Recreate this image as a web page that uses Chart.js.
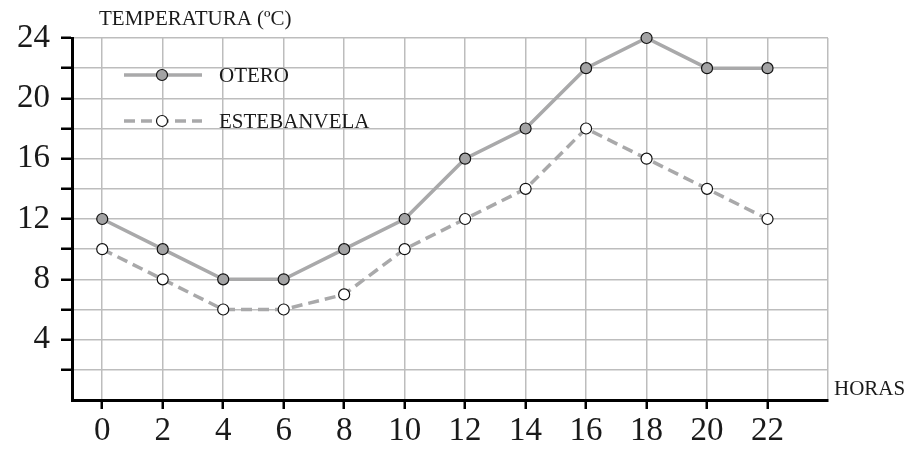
<!DOCTYPE html>
<html>
<head>
<meta charset="utf-8">
<script src="https://cdn.jsdelivr.net/npm/chart.js@4/dist/chart.umd.min.js"></script>
<style>
  html, body { margin: 0; background: #fff; }
</style>
</head>
<body>
<canvas id="tempChart" width="912" height="449"></canvas>
<script>
// datos
var horas = [0, 2, 4, 6, 8, 10, 12, 14, 16, 18, 20, 22];
var otero = [12, 10, 8, 8, 10, 12, 16, 18, 22, 24, 22, 22];
var estebanvela = [10, 8, 6, 6, 7, 10, 12, 14, 18, 16, 14, 12];
var xTicks = [0, 2, 4, 6, 8, 10, 12, 14, 16, 18, 20, 22, 24];
var seriesNames = ['OTERO', 'ESTEBANVELA'];

var lineGray = '#a9a9aa';
var serif = '"Liberation Serif", "DejaVu Serif", serif';

function toPoints(ys) {
  return horas.map(function (h, i) { return { x: h, y: ys[i] }; });
}

// titulo, etiqueta de horas y leyenda
var extras = {
  id: 'extras',
  afterDraw: function (chart) {
    var ctx = chart.ctx;
    ctx.save();
    ctx.fillStyle = '#1a1a1a';
    ctx.textBaseline = 'middle';
    ctx.font = '21px ' + serif;
    ctx.fillText('TEMPERATURA (ºC)', 99, 19);
    ctx.fillText('HORAS', 834, 389);

    var rows = [75, 121];
    rows.forEach(function (y, i) {
      ctx.strokeStyle = lineGray;
      ctx.lineWidth = 3.5;
      ctx.setLineDash(i === 0 ? [] : [11, 6]);
      ctx.beginPath();
      ctx.moveTo(124, y);
      ctx.lineTo(202, y);
      ctx.stroke();
      ctx.setLineDash([]);
      ctx.beginPath();
      ctx.arc(162, y, 5.5, 0, Math.PI * 2);
      ctx.fillStyle = i === 0 ? '#a3a3a4' : '#fff';
      ctx.fill();
      ctx.lineWidth = 1.2;
      ctx.strokeStyle = '#111';
      ctx.stroke();
      ctx.fillStyle = '#1a1a1a';
      ctx.font = '21px ' + serif;
      ctx.fillText(seriesNames[i], 219, y + 1);
    });
    ctx.restore();
  }
};

new Chart(document.getElementById('tempChart'), {
  type: 'line',
  data: {
    datasets: [{
      label: seriesNames[0],
      data: toPoints(otero),
      borderColor: lineGray,
      borderWidth: 3.5,
      pointRadius: 5.5,
      pointBackgroundColor: '#a3a3a4',
      pointBorderColor: '#111',
      pointBorderWidth: 1.2,
      tension: 0,
      clip: false
    }, {
      label: seriesNames[1],
      data: toPoints(estebanvela),
      borderColor: lineGray,
      borderWidth: 3.5,
      borderDash: [11, 6],
      pointRadius: 5.5,
      pointBackgroundColor: '#fff',
      pointBorderColor: '#111',
      pointBorderWidth: 1.2,
      tension: 0,
      clip: false
    }]
  },
  options: {
    responsive: false,
    animation: false,
    devicePixelRatio: 1,
    layout: { padding: { top: 38, right: 84, left: 0, bottom: 0 } },
    plugins: {
      legend: { display: false },
      tooltip: { enabled: false }
    },
    scales: {
      x: {
        type: 'linear',
        min: -1,
        max: 24,
        afterBuildTicks: function (scale) {
          scale.ticks = xTicks.map(function (v) { return { value: v }; });
        },
        afterFit: function (scale) { scale.height = 49; },
        grid: {
          color: '#bdbdbd',
          lineWidth: 1.5,
          tickLength: 9,
          tickWidth: 2.5,
          tickColor: function (c) { return c.tick && c.tick.value === 24 ? 'rgba(0,0,0,0)' : '#000'; }
        },
        border: { color: '#000', width: 3 },
        ticks: {
          autoSkip: false,
          maxRotation: 0,
          padding: 6,
          color: '#1a1a1a',
          font: { family: serif, size: 33, lineHeight: 1 },
          callback: function (v) { return v === 24 ? '' : v; }
        }
      },
      y: {
        min: 0,
        max: 24,
        afterFit: function (scale) { scale.width = 72; },
        grid: {
          color: '#bdbdbd',
          lineWidth: 1.5,
          tickLength: 11,
          tickWidth: 2.5,
          tickColor: function (c) { return c.tick && c.tick.value === 0 ? 'rgba(0,0,0,0)' : '#000'; }
        },
        border: { color: '#000', width: 3 },
        ticks: {
          stepSize: 2,
          autoSkip: false,
          padding: 11,
          color: '#1a1a1a',
          font: { family: serif, size: 33 },
          callback: function (v) { return (v % 4 === 0 && v > 0) ? v : ''; }
        }
      }
    }
  },
  plugins: [extras]
});
</script>
</body>
</html>
